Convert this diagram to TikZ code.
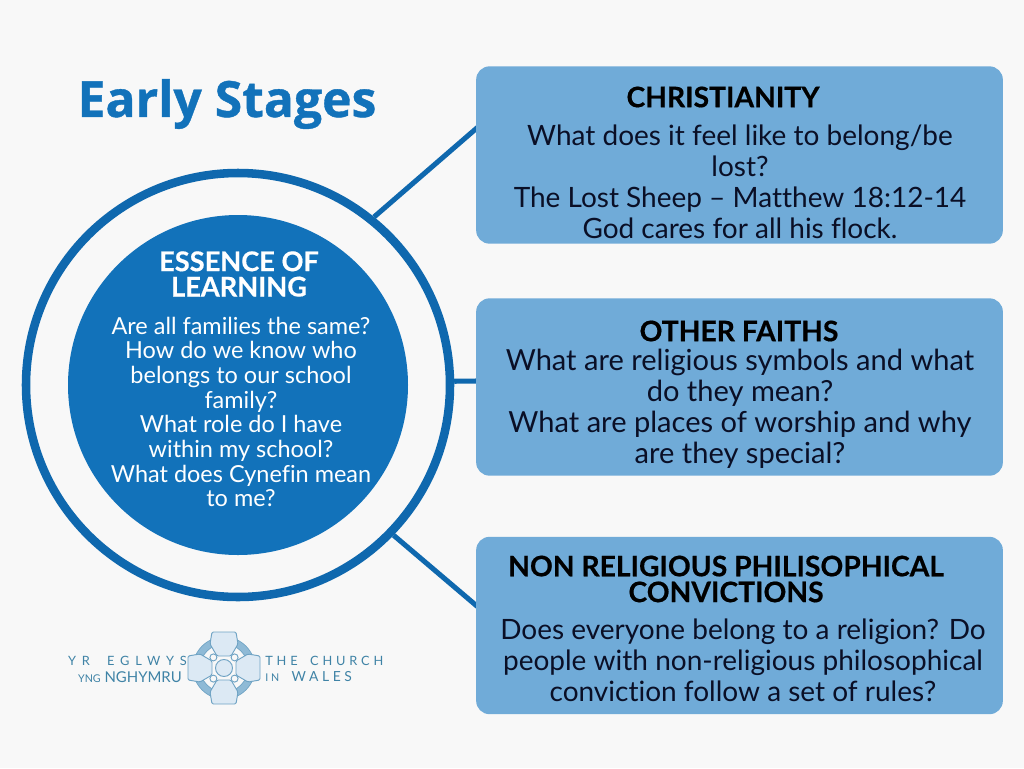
\documentclass[tikz,border=0pt]{standalone}
\usepackage{fontspec}
\setmainfont{Lato}[Ligatures=NoCommon]
\newfontfamily\titlefont{Open Sans}[FakeBold=0.8]
\newfontfamily\headfont{Lato}[FakeBold=0.5]
\usetikzlibrary{positioning}
\definecolor{pagegrey}{HTML}{F8F8F8}
\definecolor{ringblue}{HTML}{0F68AE}
\definecolor{discblue}{HTML}{1272BA}
\definecolor{boxblue}{HTML}{70ABD8}
\definecolor{inkblack}{HTML}{0A0F26}
\definecolor{logoblue}{HTML}{3F83A6}
\definecolor{logopale}{HTML}{DCE9F4}
\definecolor{logoband}{HTML}{8FBAD6}
\definecolor{logoline}{HTML}{6FA3C4}
\tikzset{
 x=0.75pt,y=-0.75pt,
 infobox/.style={fill=boxblue,rounded corners=10pt,minimum width=395pt,minimum height=133pt,inner sep=0pt},
 boxhead/.style={font=\headfont\bfseries\fontsize{21.2}{19.4}\selectfont,text=black,align=center,inner sep=0pt},
 boxtext/.style={font=\fontsize{21}{23.2}\selectfont,text=inkblack,align=center,inner sep=0pt},
 link/.style={draw=ringblue,line width=3.8pt},
 logotext/.style={text=logoblue,inner sep=0pt}
}
\begin{document}
\begin{tikzpicture}
 \useasboundingbox[fill=pagegrey](0,0) rectangle (1024,768);
 % connectors first, boxes lie over their ends
 \node[circle,draw=ringblue,line width=6.4pt,minimum size=318pt,inner sep=0pt](ring) at (238,385){};
 \coordinate (tipa) at (478,127);
 \coordinate (tipb) at (478,381);
 \coordinate (tipc) at (478,607);
 \draw[link](ring.51)--(tipa);
 \draw[link](ring.1)--(tipb);
 \draw[link](ring.-44)--(tipc);
 \node[circle,fill=discblue,minimum size=255pt,inner sep=0pt](disc) at (238,385){};
 \node[infobox](boxa) at (739.5,155){};
 \node[infobox](boxb) at (739.5,387){};
 \node[infobox](boxc) at (739.5,625.5){};
 % title
 \node[font=\titlefont\bfseries\fontsize{37.4}{37.4}\selectfont,text=discblue,inner sep=0pt](title) at (227,104){Early Stages};
 % circle text
 \node[font=\headfont\bfseries\fontsize{20.4}{19}\selectfont,text=white,align=center,inner sep=0pt](essence) at (239,274){ESSENCE OF\\LEARNING};
 \node[font=\fontsize{17.6}{18.5}\selectfont,text=white,align=center,inner sep=0pt](questions) at (241,412){Are all families the same?\\How do we know who\\belongs to our school\\family?\\What role do I have\\within my school?\\What does Cynefin mean\\to me?};
 % box text
 \node[boxhead](heada) at (723,97){CHRISTIANITY};
 \node[boxtext](texta) at (740,181.5){What does it feel like to belong/be\\lost?\\The Lost Sheep -- Matthew 18:12-14\\God cares for all his flock.};
 \node[boxhead](headb) at (739,331){OTHER FAITHS};
 \node[boxtext,font=\fontsize{21.8}{23.2}\selectfont](textb) at (740,409){What are religious symbols and what\\do they mean?\\What are places of worship and why\\are they special?};
 \node[boxhead](headc) at (726,579){NON RELIGIOUS PHILISOPHICAL\\CONVICTIONS};
 \node[boxtext](textc) at (743,660){Does everyone belong to a religion? Do\\people with non-religious philosophical\\conviction follow a set of rules?};
 % logo
 \begin{scope}[shift={(224,668)}]
  \draw[logoline,line width=0.5pt,fill=logoband,even odd rule](0,0) circle (31) circle (24);
  \foreach \ang in {0,90,180,270}{
   \draw[rotate=\ang,logoline,line width=0.7pt,fill=logopale,rounded corners=1pt]
    (-7,-12)--(-14,-24)--(-12,-36)--(12,-36)--(14,-24)--(7,-12)--cycle;
   \draw[rotate=\ang+45,logoline,line width=0.7pt,fill=pagegrey](0,-15) circle (3.5);
  }
  \draw[logoline,line width=0.7pt,fill=logopale](0,0) circle (8.5);
 \end{scope}
 \node[logotext,font=\fontsize{9.6}{9.6}\selectfont\addfontfeature{LetterSpace=46},anchor=east](yr) at (187,661){YR\hspace{6pt} EGLWYS};
 \node[logotext,font=\fontsize{11.2}{11.2}\selectfont,anchor=east](nghymru) at (182,677){{\fontsize{8}{8}\selectfont YNG} NGHYMRU};
 \node[logotext,font=\fontsize{9.6}{9.6}\selectfont\addfontfeature{LetterSpace=30},anchor=west](church) at (265,661){THE\hspace{4pt} CHURCH};
 \node[logotext,font=\fontsize{10.4}{10.4}\selectfont\addfontfeature{LetterSpace=26},anchor=west](wales) at (265,677){{\fontsize{8}{8}\selectfont IN}\hspace{4pt} WALES};
\end{tikzpicture}
\end{document}
